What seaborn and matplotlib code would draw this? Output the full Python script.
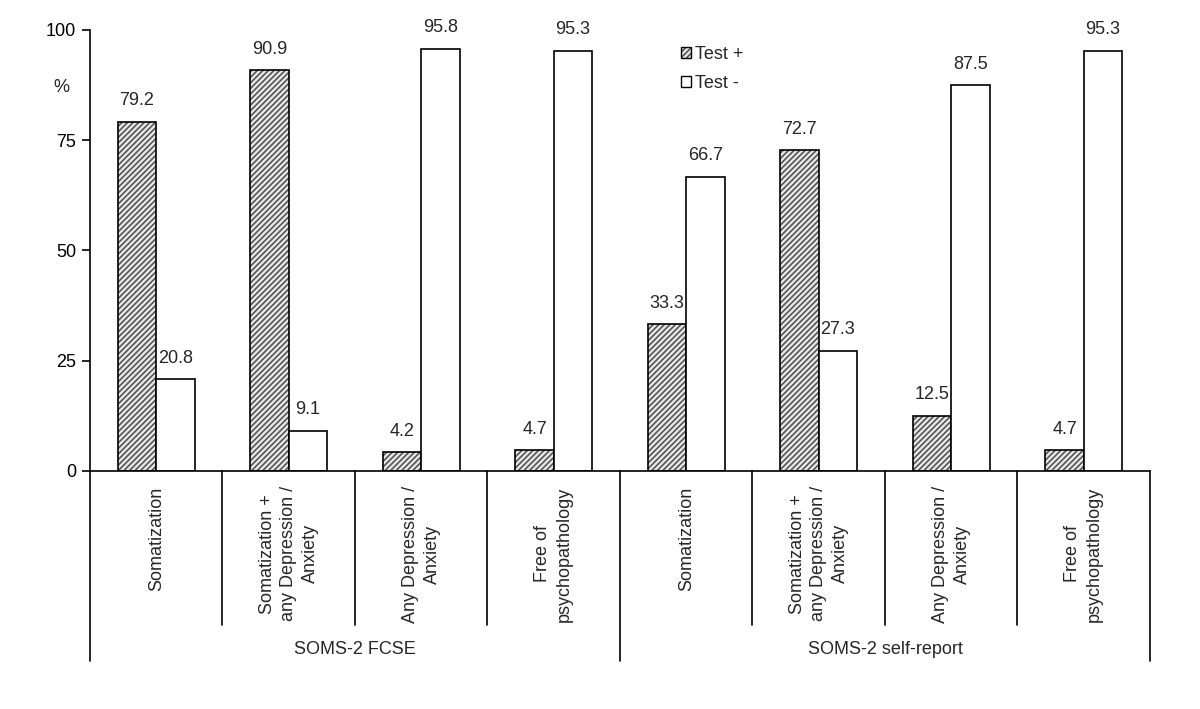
import numpy as np
import pandas as pd
import seaborn as sns
import matplotlib.pyplot as plt

# data
groups = ['SOMS-2 FCSE', 'SOMS-2 self-report']
diagnoses = ['Somatization',
             'Somatization +\nany Depression /\nAnxiety',
             'Any Depression /\nAnxiety',
             'Free of\npsychopathology']
test_pos = [79.2, 90.9, 4.2, 4.7, 33.3, 72.7, 12.5, 4.7]
test_neg = [20.8, 9.1, 95.8, 95.3, 66.7, 27.3, 87.5, 95.3]
y_ticks = [0, 25, 50, 75, 100]

categories = [f'{g}|{d}' for g in groups for d in diagnoses]
df = pd.DataFrame({
    'cat': categories * 2,
    'result': ['Test +'] * len(test_pos) + ['Test -'] * len(test_neg),
    'pct': test_pos + test_neg,
})

sns.set_style('white')
plt.rcParams['font.family'] = ['Liberation Sans', 'DejaVu Sans']
plt.rcParams['hatch.linewidth'] = 1.1
fs = 13

fig = plt.figure(figsize=(12, 7.09), dpi=100)
ax = fig.add_axes([0.075, 0.3357, 0.8833, 0.622])

sns.barplot(data=df, x='cat', y='pct', hue='result', order=categories,
            palette={'Test +': '#e6e6e6', 'Test -': 'white'},
            width=0.58, edgecolor='black', linewidth=1.2, ax=ax)

# hatched fill for "Test +" in dark grey lines
for p in ax.containers[0]:
    p.set_hatch('//////')
    p._hatch_color = (0.3, 0.3, 0.3, 1.0)

for cont in ax.containers:
    ax.bar_label(cont, fmt='%.1f', padding=9, fontsize=fs)

# axes styling
ax.set_xlim(-0.5, len(categories) - 0.5)
ax.set_ylim(0, 100)
ax.set_yticks(y_ticks)
ax.set_xticks([])
ax.set_xlabel('')
ax.set_ylabel('')
sns.despine(ax=ax)
for s in ['left', 'bottom']:
    ax.spines[s].set_color('black')
    ax.spines[s].set_linewidth(1.2)
ax.tick_params(axis='y', left=True, direction='out', length=6, width=1.2,
               pad=4, labelsize=fs, colors='black')
ax.text(-0.027, 87, '%', transform=ax.get_yaxis_transform(),
        ha='center', va='center', fontsize=fs)

# category labels and separators below the axis
xt = ax.get_xaxis_transform()
for i, lab in enumerate(diagnoses * len(groups)):
    ax.annotate(lab, xy=(i, 0), xycoords=xt, xytext=(0, -11),
                textcoords='offset points', rotation=90, ha='center',
                va='top', multialignment='center', fontsize=fs,
                linespacing=1.35, annotation_clip=False)
n = len(diagnoses)
for k in range(len(categories) + 1):
    low = -0.43 if k % n == 0 else -0.35
    ax.plot([k - 0.5, k - 0.5], [0, low], transform=xt, color='black',
            lw=1.2, clip_on=False)
for g, name in enumerate(groups):
    ax.text(g * n + (n - 1) / 2, -0.405, name, transform=xt,
            ha='center', va='center', fontsize=fs)

# legend
leg = ax.legend(handles=[ax.containers[0][0], ax.containers[1][0]],
                labels=['Test +', 'Test -'], loc='upper left',
                bbox_to_anchor=(0.56, 0.948), bbox_transform=fig.transFigure,
                frameon=False, fontsize=fs, handlelength=0.55,
                handleheight=0.55, handletextpad=0.25, labelspacing=0.65,
                borderpad=0)
for h in leg.legend_handles:
    h.set_linewidth(1.0)

fig.savefig('out.png', dpi=100)
